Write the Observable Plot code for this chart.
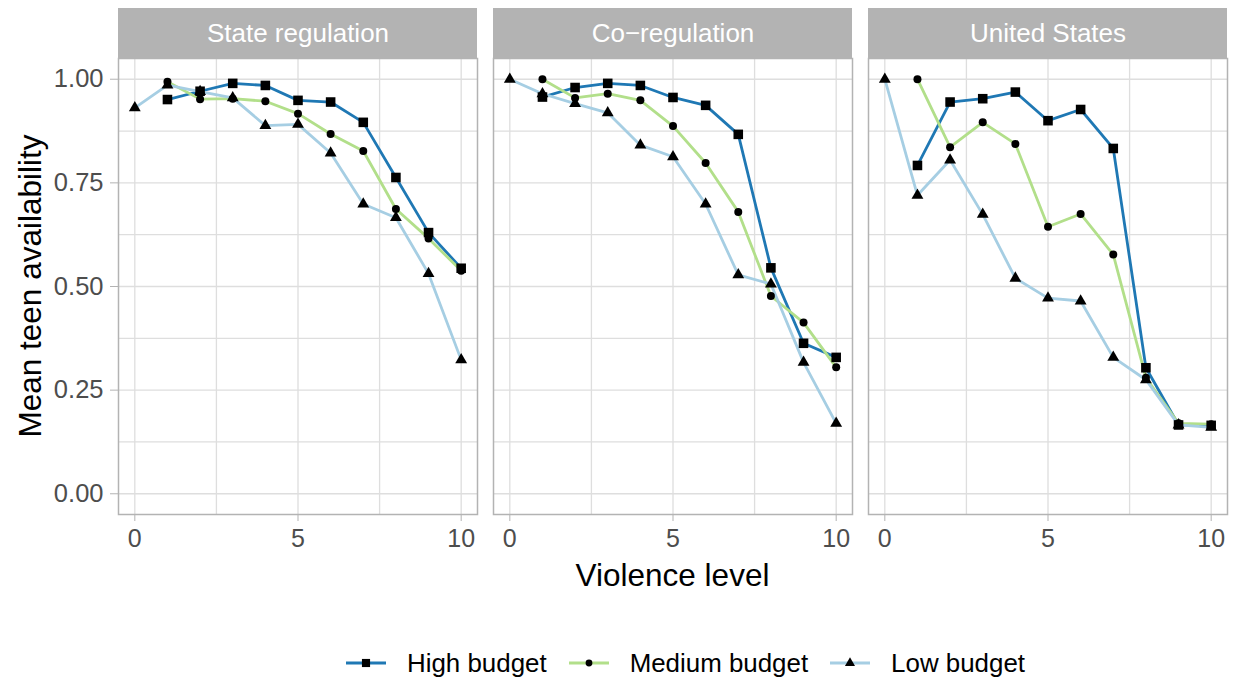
<!DOCTYPE html>
<html>
<head>
<meta charset="utf-8">
<script src="https://cdn.jsdelivr.net/npm/d3@7"></script>
<script src="https://cdn.jsdelivr.net/npm/@observablehq/plot@0.6"></script>
<style>
  html, body { margin: 0; padding: 0; background: #fff; }
  body { width: 1238px; height: 682px; position: relative; overflow: hidden; font-family: "Liberation Sans", Arial, sans-serif; }
  #chart { position: absolute; left: 0; top: 0; }
  .title { position: absolute; color: #000; font-size: 31.5px; white-space: nowrap; }
  #xtitle { left: 0; width: 1238px; padding-left: 107px; box-sizing: border-box; text-align: center; top: 557px; line-height: 36px; }
  #ytitle { left: 30px; top: 286px; transform: translate(-50%, -50%) rotate(-90deg); line-height: 36px; }
  #legend { position: absolute; left: 346px; top: 640px; height: 46px; display: flex; align-items: center; font-size: 25.9px; color: #000; }
  .item { display: flex; align-items: center; margin-right: 22px; }
  .item svg { margin-right: 21px; }
</style>
</head>
<body>
<div id="chart"></div>
<div id="xtitle" class="title">Violence level</div>
<div id="ytitle" class="title">Mean teen availability</div>
<div id="legend"></div>
<script>
// ---- data ----
const regimes = ["State regulation", "Co\u2212regulation", "United States"];
const budgets = ["High budget", "Medium budget", "Low budget"];
const budgetColors = ["#1f78b4", "#b2df8a", "#a6cee3"];
const budgetSymbols = ["square", "circle", "triangle"];
const violence = [0, 1, 2, 3, 4, 5, 6, 7, 8, 9, 10];
const xTicks = [0, 5, 10];
const yTicks = [0, 0.25, 0.5, 0.75, 1];

const stateHigh   = [null, 0.951, 0.971, 0.990, 0.985, 0.949, 0.945, 0.896, 0.763, 0.630, 0.544];
const stateMedium = [null, 0.994, 0.952, 0.953, 0.947, 0.917, 0.868, 0.827, 0.687, 0.616, 0.538];
const stateLow    = [0.931, 0.986, 0.970, 0.955, 0.888, 0.891, 0.822, 0.699, 0.666, 0.531, 0.323];

const coHigh   = [null, 0.957, 0.980, 0.990, 0.985, 0.956, 0.937, 0.867, 0.545, 0.363, 0.329];
const coMedium = [null, 1.000, 0.955, 0.965, 0.949, 0.887, 0.798, 0.680, 0.477, 0.413, 0.305];
const coLow    = [1.000, 0.965, 0.941, 0.919, 0.841, 0.813, 0.699, 0.528, 0.506, 0.317, 0.170];

const usHigh   = [null, 0.792, 0.945, 0.953, 0.969, 0.900, 0.927, 0.833, 0.304, 0.166, 0.165];
const usMedium = [null, 1.000, 0.836, 0.896, 0.844, 0.644, 0.675, 0.577, 0.280, 0.170, 0.168];
const usLow    = [1.000, 0.720, 0.805, 0.674, 0.520, 0.472, 0.465, 0.329, 0.275, 0.166, 0.160];

const series = {
  [regimes[0]]: {"High budget": stateHigh, "Medium budget": stateMedium, "Low budget": stateLow},
  [regimes[1]]: {"High budget": coHigh, "Medium budget": coMedium, "Low budget": coLow},
  [regimes[2]]: {"High budget": usHigh, "Medium budget": usMedium, "Low budget": usLow}
};

const rows = [];
for (const regime of regimes) {
  for (const budget of budgets) {
    series[regime][budget].forEach((v, i) => {
      if (v != null) rows.push({regime, budget, violence: violence[i], value: v});
    });
  }
}
const strips = regimes.map(r => ({regime: r}));

// ---- chart ----
const yMin = -0.05, yMax = 1.05;
const pxPerUnit = (630 - 58 - 116) / (yMax - yMin);
const stripTop = yMax + 50 / pxPerUnit;
const stripMid = yMax + 25 / pxPerUnit;

const dotR = {"High budget": 5.4, "Medium budget": 4.0, "Low budget": 4.4};

const plot = Plot.plot({
  width: 1238,
  height: 630,
  marginLeft: 117,
  marginRight: 10,
  marginTop: 58,
  marginBottom: 116,
  style: {fontFamily: "'Liberation Sans', Arial, sans-serif", background: "#fff"},
  fx: {domain: regimes, paddingInner: 0.0426, paddingOuter: 0, axis: null, label: null},
  x: {domain: [-0.5, 10.5], label: null},
  y: {domain: [yMin, yMax], label: null},
  color: {domain: budgets, range: budgetColors},
  marks: [
    Plot.gridX({ticks: [0, 2.5, 5, 7.5, 10], stroke: "#dedede", strokeOpacity: 1, strokeWidth: 1.3}),
    Plot.gridY({ticks: d3.range(0, 1.0001, 0.125), stroke: "#dedede", strokeOpacity: 1, strokeWidth: 1.3}),
    Plot.axisX({ticks: xTicks, tickSize: 7, tickPadding: 8, stroke: "#b3b3b3", fill: "#4d4d4d", fontSize: 25, label: null, tickFormat: d => String(d)}),
    Plot.axisY({ticks: yTicks, tickSize: 8, tickPadding: 7, stroke: "#b3b3b3", fill: "#4d4d4d", fontSize: 25.5, label: null, tickFormat: d3.format(".2f")}),
    // lines: High, Medium, Low (Low on top)
    Plot.line(rows, {x: "violence", y: "value", fx: "regime", z: "budget", stroke: "budget", strokeWidth: 2.8, strokeLinejoin: "round"}),
    // points: Low, Medium, High (High on top)
    ...["Low budget", "Medium budget", "High budget"].map(b =>
      Plot.dot(rows.filter(d => d.budget === b), {
        x: "violence", y: "value", fx: "regime",
        symbol: budgetSymbols[budgets.indexOf(b)], r: dotR[b], fill: "#000", stroke: "none"
      })
    ),
    Plot.frame({stroke: "#b3b3b3", strokeWidth: 1.5}),
    // facet strips
    Plot.rect(strips, {fx: "regime", x1: -0.5, x2: 10.5, y1: yMax, y2: stripTop, fill: "#b3b3b3", inset: 0}),
    Plot.text(strips, {fx: "regime", x: 5, y: stripMid, text: "regime", fill: "#fff", fontSize: 26, textAnchor: "middle", lineAnchor: "middle"})
  ]
});
document.getElementById("chart").appendChild(plot);

// ---- legend ----
const legend = d3.select("#legend");
budgets.forEach((b, i) => {
  const item = legend.append("div").attr("class", "item");
  const svg = item.append("svg").attr("width", 40).attr("height", 24);
  svg.append("line").attr("x1", 0).attr("x2", 40).attr("y1", 12).attr("y2", 12)
    .attr("stroke", budgetColors[i]).attr("stroke-width", 2.8);
  const sym = {square: d3.symbolSquare, circle: d3.symbolCircle, triangle: d3.symbolTriangle}[budgetSymbols[i]];
  const r = dotR[b] * 0.85;
  svg.append("path").attr("transform", "translate(20,12)")
    .attr("d", d3.symbol(sym, Math.PI * r * r)()).attr("fill", "#000");
  item.append("span").text(b);
});
</script>
</body>
</html>
